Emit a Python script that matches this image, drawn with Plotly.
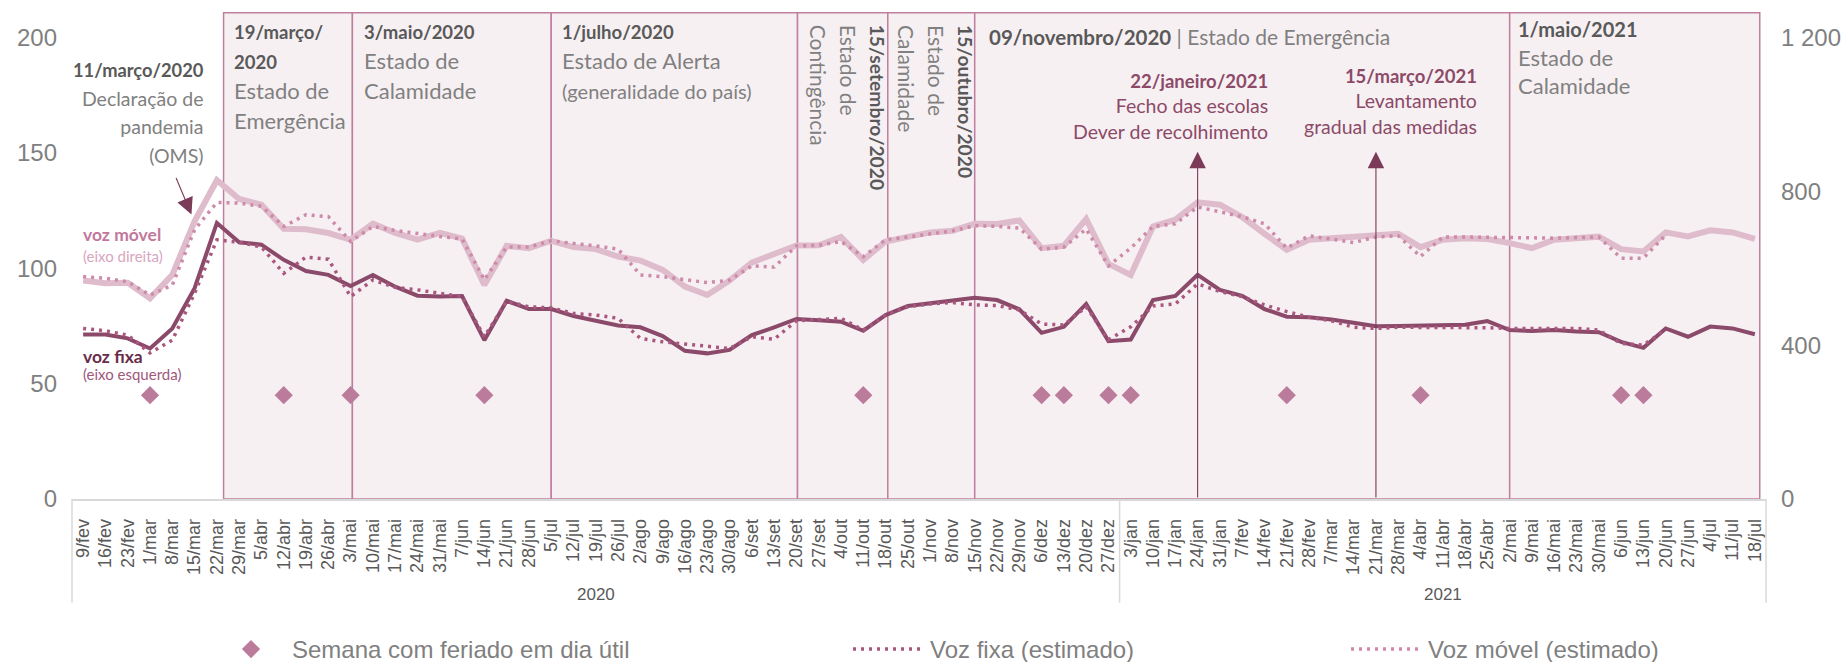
import plotly.graph_objects as go

# ---------------- data ----------------
weeks = ["9/fev", "16/fev", "23/fev", "1/mar", "8/mar", "15/mar", "22/mar", "29/mar", "5/abr", "12/abr",
         "19/abr", "26/abr", "3/mai", "10/mai", "17/mai", "24/mai", "31/mai", "7/jun", "14/jun", "21/jun",
         "28/jun", "5/jul", "12/jul", "19/jul", "26/jul", "2/ago", "9/ago", "16/ago", "23/ago", "30/ago",
         "6/set", "13/set", "20/set", "27/set", "4/out", "11/out", "18/out", "25/out", "1/nov", "8/nov",
         "15/nov", "22/nov", "29/nov", "6/dez", "13/dez", "20/dez", "27/dez",
         "3/jan", "10/jan", "17/jan", "24/jan", "31/jan", "7/fev", "14/fev", "21/fev", "28/fev", "7/mar",
         "14/mar", "21/mar", "28/mar", "4/abr", "11/abr", "18/abr", "25/abr", "2/mai", "9/mai", "16/mai",
         "23/mai", "30/mai", "6/jun", "13/jun", "20/jun", "27/jun", "4/jul", "11/jul", "18/jul"]
years = ["2020", "2021"]
weeks_per_year = [47, 29]

voz_fixa = [71.3, 71.3, 69.6, 65.2, 73.9, 91.3, 119.6, 111.2, 110.2, 103.6,
            98.8, 97.1, 92.3, 97.1, 92.0, 88.1, 87.7, 87.9, 68.8, 85.9,
            82.3, 82.3, 79.3, 77.2, 75.2, 74.4, 70.6, 64.2, 63.1, 64.6,
            71.0, 74.4, 78.0, 77.5, 76.8, 72.9, 79.7, 83.6, 84.8, 85.9,
            87.2, 86.2, 82.2, 72.0, 74.6, 84.5, 68.4,
            69.1, 86.2, 88.0, 97.1, 90.6, 88.0, 82.3, 79.0, 78.7, 77.8,
            76.4, 74.9, 75.0, 75.2, 75.5, 75.5, 77.1, 73.2, 72.8, 73.2,
            72.6, 72.3, 68.1, 65.5, 73.9, 70.3, 74.7, 73.9, 71.4]

voz_fixa_est = [73.9, 72.9, 71.0, 63.3, 68.8, 89.1, 112.3, 111.2, 109.2, 97.8,
                104.8, 103.9, 87.7, 94.9, 91.7, 90.6, 89.1, 87.7, 70.3, 85.6,
                83.3, 82.8, 80.4, 79.7, 78.3, 69.6, 68.1, 67.1, 65.9, 65.2,
                70.3, 69.2, 77.2, 77.8, 78.3, 73.2, 79.7, 83.3, 84.5, 85.1,
                84.1, 83.8, 81.9, 75.8, 75.4, 83.3, 69.0,
                74.6, 83.6, 84.5, 93.2, 89.9, 87.7, 84.1, 81.2, 78.7, 77.2,
                74.4, 73.9, 74.4, 74.4, 74.2, 74.2, 74.2, 73.9, 73.9, 73.9,
                73.9, 73.2, 67.4, 66.7, 73.5]

voz_movel = [567.8, 561, 562, 521.8, 582.6, 721.7, 828.6, 780, 765.2, 702.6,
             701, 691.4, 673.9, 715.6, 692, 674, 692, 677.3, 556.5, 658.2,
             652, 671.3, 654.8, 649.6, 630.3, 619.9, 595.6, 552, 530.4, 567.7,
             614.7, 634.8, 659, 659.5, 681, 621.7, 669.5, 681.5, 693, 697.4,
             715.6, 714.8, 724.3, 652.2, 658.3, 727.9, 611.3,
             582.6, 708.6, 726, 771.3, 765.2, 733, 689.6, 647.8, 674, 678,
             682.6, 686.7, 689.6, 654.8, 674, 678, 676, 665.3, 652.2, 674,
             678, 682, 649.6, 643.4, 693, 682.6, 698.3, 693, 676]

voz_movel_est = [578, 574, 565, 530, 556, 700, 771, 769, 761, 708.6,
                 739, 734, 669.5, 708.6, 698, 689.5, 682.5, 676, 570, 654.8,
                 654.8, 671, 665.3, 658, 649.6, 582.6, 578, 571.4, 562.5, 569,
                 606, 603, 658, 659.5, 669.5, 630, 674, 681, 689.5, 697,
                 710.4, 708.6, 704.4, 649.6, 654.8, 701.8, 606,
                 652.2, 708.6, 715.6, 759.2, 747.7, 733.9, 715.6, 652.2, 684.3, 676,
                 666.8, 681, 684.3, 630.4, 681, 681, 681, 679.7, 678.9, 678,
                 679, 681, 626.1, 626.1, 686]

holiday_weeks = ["1/mar", "12/abr", "3/mai", "14/jun", "11/out", "6/dez", "13/dez", "27/dez",
                 "3/jan", "21/fev", "4/abr", "6/jun", "13/jun"]
holiday_level = 45

left_ticks = [0, 50, 100, 150, 200]
right_ticks = [0, 400, 800, 1200]
right_ticktext = ["0", "400", "800", "1 200"]

# ---------------- style ----------------
C_FIXA = "#8b4a6a"
C_FIXA_EST = "#a9577f"
C_MOVEL = "#dfbccb"
C_MOVEL_EST = "#cd8aa9"
C_DIAMOND = "#bb7b9b"
C_REGION_FILL = "#f7f0f3"
C_REGION_LINE = "#bf809f"
C_GRAY = "#808080"
C_DARK = "#595959"
C_MAUVE = "#8c4a68"
ARIAL = "Liberation Sans, Arial, sans-serif"
CAL = "Lato, Calibri, sans-serif"

LEFT_MAX = 211
RIGHT_MAX = LEFT_MAX * 6

fig = go.Figure()

fig.add_trace(go.Scatter(x=weeks, y=voz_movel, mode="lines", yaxis="y2", name="Voz móvel",
                         line=dict(color=C_MOVEL, width=6), showlegend=False))
fig.add_trace(go.Scatter(x=weeks, y=voz_fixa, mode="lines", name="Voz fixa",
                         line=dict(color=C_FIXA, width=4), showlegend=False))
fig.add_trace(go.Scatter(x=weeks[:len(voz_movel_est)], y=voz_movel_est, mode="lines", yaxis="y2",
                         name="Voz móvel (estimado)", line=dict(color=C_MOVEL_EST, width=3.5, dash="3px,5px"),
                         legend="legend3"))
fig.add_trace(go.Scatter(x=weeks[:len(voz_fixa_est)], y=voz_fixa_est, mode="lines",
                         name="Voz fixa (estimado)", line=dict(color=C_FIXA_EST, width=3.5, dash="3px,5px"),
                         legend="legend2"))
fig.add_trace(go.Scatter(x=holiday_weeks, y=[holiday_level] * len(holiday_weeks), mode="markers",
                         name="Semana com feriado em dia útil",
                         marker=dict(symbol="diamond", size=14, color=C_DIAMOND), legend="legend"))

# ---------------- period regions ----------------
period_bounds = [6.3, 12.08, 21.0, 32.05, 36.1, 40.0, 64.0, 75.22]
shapes = []
for a, b in zip(period_bounds[:-1], period_bounds[1:]):
    shapes.append(dict(type="rect", xref="x", yref="y", x0=a, x1=b, y0=0, y1=LEFT_MAX - 0.3,
                       fillcolor=C_REGION_FILL, line=dict(color=C_REGION_LINE, width=1.5), layer="below"))

# year dividers below axis
n = len(weeks)
cum = [0]
for k in weeks_per_year:
    cum.append(cum[-1] + k)
for c in cum:
    shapes.append(dict(type="line", xref="paper", yref="paper", x0=c / n, x1=c / n, y0=0, y1=-0.213,
                       line=dict(color="#d9d9d9", width=1.5)))

annotations = []
for yr, a, b in zip(years, cum[:-1], cum[1:]):
    annotations.append(dict(text=yr, x=(a + b - 1) / 2, y=-0.196, xref="x", yref="paper", showarrow=False,
                            font=dict(family=ARIAL, size=17, color=C_DARK), xanchor="center", yanchor="middle"))


def sp(t, size, color, bold=False):
    inner = "<b>%s</b>" % t if bold else t
    return "<span style='font-size:%spx;color:%s'>%s</span>" % (size, color, inner)


def block(lines, x, y, base, xanchor="left", align=None, angle=0, yanchor="top"):
    # y given in left-axis units, placed in paper space so it may sit above the plot
    annotations.append(dict(text="<br>".join(lines), x=x, y=y / LEFT_MAX, xref="x", yref="paper",
                            showarrow=False, xanchor=xanchor, yanchor=yanchor, align=align or xanchor,
                            textangle=angle, font=dict(family=CAL, size=base, color=C_GRAY)))


block([sp("11/março/2020", 18.3, C_DARK, True), sp("Declaração de", 19.5, C_GRAY),
       sp("pandemia", 19.5, C_GRAY), sp("(OMS)", 19.5, C_GRAY)], 5.49, 191.7, 22, xanchor="right")
block([sp("19/março/", 18.5, C_DARK, True), sp("2020", 18.5, C_DARK, True),
       sp("Estado de", 22, C_GRAY), sp("Emergência", 22, C_GRAY)], 6.70, 208.1, 23)
block([sp("3/maio/2020", 18.5, C_DARK, True), sp("Estado de", 22, C_GRAY),
       sp("Calamidade", 22, C_GRAY)], 12.50, 208.1, 23)
block([sp("1/julho/2020", 18.5, C_DARK, True), sp("Estado de Alerta", 22, C_GRAY),
       sp("(generalidade do país)", 20, C_GRAY)], 21.40, 208.1, 23)
block([sp("15/setembro/2020", 19.3, C_DARK, True), sp("Estado de", 21, C_GRAY),
       sp("Contingência", 21, C_GRAY)], 34.30, 206.3, 23, xanchor="center", align="left", angle=90)
block([sp("15/outubro/2020", 19.3, C_DARK, True), sp("Estado de", 21, C_GRAY),
       sp("Calamidade", 21, C_GRAY)], 38.23, 206.3, 23, xanchor="center", align="left", angle=90)
block([sp("09/novembro/2020", 20.5, C_DARK, True) + sp(" | Estado de Emergência", 21, C_GRAY)],
      40.55, 206.7, 22)
block([sp("22/janeiro/2021", 18.5, C_MAUVE, True), sp("Fecho das escolas", 19.5, C_MAUVE),
       sp("Dever de recolhimento", 19.5, C_MAUVE)], 53.23, 186.8, 19.5, xanchor="right")
block([sp("15/março/2021", 18.5, C_MAUVE, True), sp("Levantamento", 19.5, C_MAUVE),
       sp("gradual das medidas", 19.5, C_MAUVE)], 62.63, 189.1, 19.5, xanchor="right")
block([sp("1/maio/2021", 20, C_DARK, True), sp("Estado de", 22, C_GRAY),
       sp("Calamidade", 22, C_GRAY)], 64.27, 209.6, 22)

# series labels
block([sp("voz móvel", 17.5, "#c2779c", True)], -0.1, 114.6, 17.5, yanchor="middle")
block([sp("(eixo direita)", 15, "#d8a6be")], -0.1, 105.2, 15, yanchor="middle")
block([sp("voz fixa", 17.5, "#6a2c49", True)], -0.1, 61.9, 17.5, yanchor="middle")
block([sp("(eixo esquerda)", 15, "#a0577b")], -0.1, 54.0, 15, yanchor="middle")

# arrows
arrow_style = dict(showarrow=True, arrowhead=2, arrowsize=3.0, arrowwidth=1.1, arrowcolor="#7a3a58",
                   standoff=0, text="")
annotations.append(dict(x=4.86, y=123.3, xref="x", yref="y", ax=-16, ay=-38, **arrow_style))
for wk in ["24/jan", "21/mar"]:
    xi = weeks.index(wk)
    annotations.append(dict(x=xi, y=150.5, xref="x", yref="y", ax=xi, ay=0, axref="x", ayref="y",
                            **arrow_style))

legend_common = dict(orientation="h", yanchor="middle", y=-0.309, xanchor="left", itemwidth=72,
                     font=dict(family=ARIAL, size=24, color=C_GRAY), bgcolor="rgba(0,0,0,0)")

fig.update_layout(
    width=1847, height=662,
    margin=dict(l=72, r=81, t=12, b=163, autoexpand=False),
    paper_bgcolor="white", plot_bgcolor="white",
    xaxis=dict(type="category", range=[-0.5, n - 0.5], tickangle=-90, showgrid=False, zeroline=False,
               showline=True, linecolor="#d9d9d9", linewidth=1.5, ticks="", ticklabelstandoff=11,
               automargin=False, tickfont=dict(family=ARIAL, size=18, color=C_DARK)),
    yaxis=dict(range=[0, LEFT_MAX], tickvals=left_ticks, showgrid=False, zeroline=False, showline=False,
               ticks="", ticklabelstandoff=14, automargin=False,
               tickfont=dict(family=ARIAL, size=24, color=C_GRAY)),
    yaxis2=dict(range=[0, RIGHT_MAX], tickvals=right_ticks, ticktext=right_ticktext, overlaying="y",
                side="right", showgrid=False, zeroline=False, showline=False, ticks="",
                ticklabelstandoff=14, automargin=False,
                tickfont=dict(family=ARIAL, size=24, color=C_GRAY)),
    legend=dict(x=(210 - 72) / 1694, **legend_common),
    legend2=dict(x=(848 - 72) / 1694, **legend_common),
    legend3=dict(x=(1346 - 72) / 1694, **legend_common),
    shapes=shapes,
    annotations=annotations,
)

fig.write_html("out.html", config={"displayModeBar": False},
               post_script="document.body.style.margin='0';document.body.style.padding='0';"
                           "document.body.style.overflow='hidden';")
